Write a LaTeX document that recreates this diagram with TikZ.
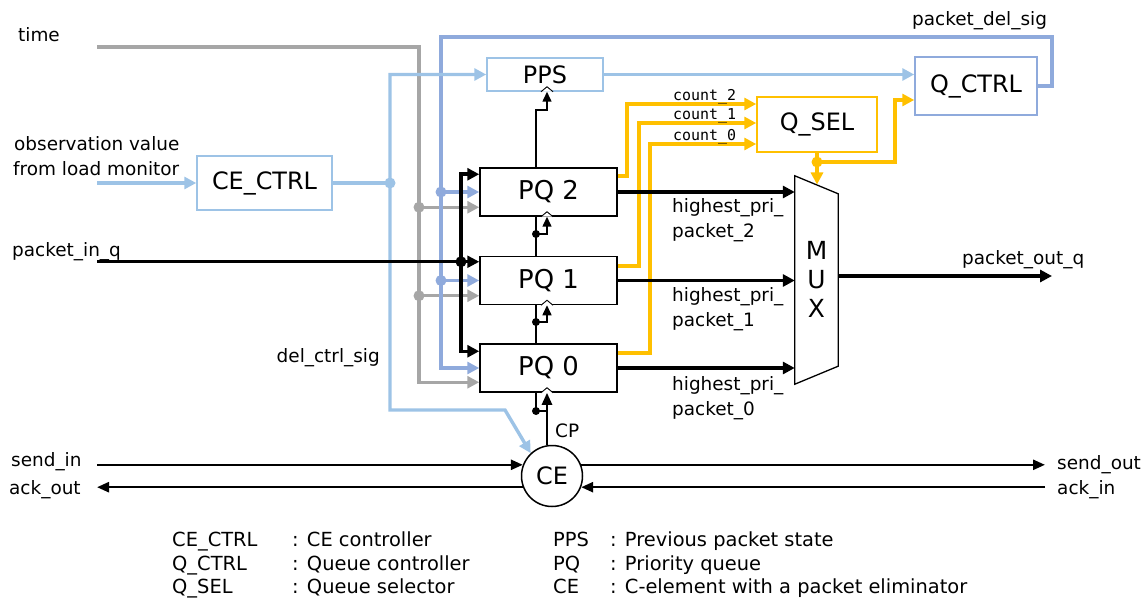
\documentclass[tikz,border=0pt]{standalone}
\usepackage{fontspec}
\setmainfont{DejaVu Sans}
\setmonofont{DejaVu Sans Mono}
\usetikzlibrary{arrows.meta,calc}
\definecolor{lblue}{HTML}{9DC3E6}
\definecolor{mblue}{HTML}{8FAADC}
\definecolor{gry}{HTML}{A6A6A6}
\definecolor{org}{HTML}{FFC000}
\tikzset{
  lbl/.style={inner sep=0pt, font=\fontsize{18.5}{22}\selectfont, anchor=base west},
  leg/.style={inner sep=0pt, font=\fontsize{19.5}{23}\selectfont, anchor=base west},
  cnt/.style={inner sep=0pt, font=\ttfamily\fontsize{15}{17}\selectfont, anchor=base west},
  blk/.style={draw, line width=1.5bp, inner sep=0pt, font=\fontsize{24}{28}\selectfont},
  pq/.style={draw, line width=1.5bp, inner sep=0pt, minimum width=137bp, minimum height=48bp, font=\fontsize{26}{30}\selectfont},
  wl/.style={line width=3.4bp},
  wo/.style={line width=3.6bp, org},
  wk/.style={line width=3.5bp, black},
  wm/.style={line width=2.5bp, black},
  wt/.style={line width=1.5bp, black},
  tipL/.style={-{Triangle[length=12bp,width=12bp]}},
  tipM/.style={-{Triangle[length=12bp,width=10bp]}},
  tipS/.style={-{Triangle[length=10bp,width=9bp]}},
  dotL/.style={circle, inner sep=0pt, minimum size=11bp},
  dotS/.style={circle, fill=black, inner sep=0pt, minimum size=8bp},
}
\begin{document}
\begin{tikzpicture}[x=1bp,y=-1bp]
\useasboundingbox (0,0) rectangle (1147,601);

% ---------- blocks
\node[blk, draw=lblue, minimum width=116bp, minimum height=33bp] (PPS) at (545,74.5) {PPS};
\node[blk, draw=mblue, minimum width=122bp, minimum height=58bp] (QCTRL) at (976,86) {Q\_CTRL};
\node[blk, draw=org, minimum width=120bp, minimum height=55bp] (QSEL) at (817,124.5) {Q\_SEL};
\node[blk, draw=lblue, minimum width=135bp, minimum height=54bp] (CECTRL) at (264.5,183) {CE\_CTRL};
\node[pq] (PQ2) at (548.5,192) {PQ 2};
\node[pq] (PQ1) at (548.5,280.5) {PQ 1};
\node[pq] (PQ0) at (548.5,368) {PQ 0};
\node[inner sep=0pt, minimum width=43bp, minimum height=208bp] (MUX) at (816.5,280) {};
\draw[line width=1.3bp] (MUX.north west) -- ($(MUX.north east)+(0,18)$) -- ($(MUX.south east)+(0,-18)$) -- (MUX.south west) -- cycle;
\node[font=\fontsize{25}{28}\selectfont, inner sep=0pt] (mM) at (816.5,250) {M};
\node[font=\fontsize{25}{28}\selectfont, inner sep=0pt] (mU) at (816.5,280) {U};
\node[font=\fontsize{25}{28}\selectfont, inner sep=0pt] (mX) at (816.5,308) {X};
\node[blk, circle, minimum size=61bp] (CE) at (552,476) {CE};

% ---------- columns
\coordinate (xg) at (419,0);
\coordinate (xb) at (441,0);
\coordinate (xl) at (390,0);
\coordinate (xk) at (461,0);
\coordinate (xa) at (547,0);
\coordinate (xc) at (536,0);
\coordinate (lx) at (97,0);
\coordinate (rx) at (1045,0);

% ---------- gray: time
\coordinate (g2) at ($(PQ2.north west)+(0,40)$);
\coordinate (g1) at ($(PQ1.north west)+(0,40)$);
\coordinate (g0) at ($(PQ0.north west)+(0,39)$);
\coordinate (tm) at (97,47);
\draw[wl, gry, tipL] (tm) -- (tm -| xg) -- (g0 -| xg) -- (g0);
\draw[wl, gry, tipL] (g2 -| xg) -- (g2);
\draw[wl, gry, tipL] (g1 -| xg) -- (g1);
\node[dotL, fill=gry] (dg2) at (g2 -| xg) {};
\node[dotL, fill=gry] (dg1) at (g1 -| xg) {};

% ---------- medium blue: packet_del_sig
\coordinate (pdA) at (1052,37);
\coordinate (pdB) at (441,37);
\draw[wl, mblue, tipL] (QCTRL.east) -| (pdA) -- (pdB) |- (PQ0.west);
\draw[wl, mblue, tipL] (PQ2.west -| xb) -- (PQ2.west);
\draw[wl, mblue, tipL] (PQ1.west -| xb) -- (PQ1.west);
\node[dotL, fill=mblue] (db2) at (PQ2.west -| xb) {};
\node[dotL, fill=mblue] (db1) at (PQ1.west -| xb) {};

% ---------- light blue
\coordinate (lb) at (390,410);
\coordinate (lc) at (505,410);
\draw[wl, lblue, {Triangle[length=12bp,width=12bp]}-{Triangle[length=12bp,width=12bp]}] (PPS.west) -- (PPS.west -| xl) -- (lb) -- (lc) -- (CE.133);
\draw[wl, lblue] (CECTRL.east) -- (CECTRL.east -| xl);
\node[dotL, fill=lblue] (dl) at (CECTRL.east -| xl) {};
\coordinate (obs) at (97,183);
\draw[wl, lblue, tipL] (obs) -- (CECTRL.west);
\draw[wl, lblue, tipL] (PPS.east) -- (PPS.east -| QCTRL.west);

% ---------- orange
\coordinate (o2) at ($(PQ2.north east)+(0,9)$);
\coordinate (o1) at ($(PQ1.north east)+(0,10)$);
\coordinate (o0) at ($(PQ0.north east)+(0,10)$);
\coordinate (v2) at (627,104);
\coordinate (v1) at (639,123);
\coordinate (v0) at (650,144);
\draw[wo, tipL] (o2) -| (v2) -- (v2 -| QSEL.west);
\draw[wo, tipL] (o1) -| (v1) -- (v1 -| QSEL.west);
\draw[wo, tipL] (o0) -| (v0) -- (v0 -| QSEL.west);
\coordinate (qd) at (817,162);
\coordinate (mt) at (817,184.5);
\coordinate (qv) at (895,100);
\draw[wo, tipL] (QSEL.south) -- (mt);
\draw[wo, tipL] (qd) -| (qv) -- (qv -| QCTRL.west);
\node[dotL, fill=org] (dq) at (qd) {};

% ---------- black data paths
\draw[wk, tipL] (PQ2.east) -- (PQ2.east -| MUX.west);
\draw[wk, tipL] (PQ1.east) -- (PQ1.east -| MUX.west);
\draw[wk, tipL] (PQ0.east) -- (PQ0.east -| MUX.west);
\coordinate (pout) at (1052,276);
\draw[wk, tipL] (pout -| MUX.east) -- (pout);
\coordinate (b2) at ($(PQ2.north west)+(0,7)$);
\coordinate (b1) at ($(PQ1.north west)+(0,6)$);
\coordinate (b0) at ($(PQ0.north west)+(0,8)$);
\draw[wm, tipL] (b1 -| lx) -- (b1);
\draw[wk, {Triangle[length=12bp,width=12bp]}-{Triangle[length=12bp,width=12bp]}] (b2) -- (b2 -| xk) -- (b0 -| xk) -- (b0);
\node[dotL, fill=black] (dk) at (b1 -| xk) {};

% ---------- chain between queues
\coordinate (k3) at (536,110);
\coordinate (k2) at (536,234);
\coordinate (k1) at (536,322);
\coordinate (k0) at (536,411);
\draw[wt, tipS] (PQ2.north -| xc) -- (k3) -| (PPS.south -| xa);
\draw[wt] (PQ1.north -| xc) -- (PQ2.south -| xc);
\draw[wt, tipS] (k2) -| (PQ2.south -| xa);
\draw[wt] (PQ0.north -| xc) -- (PQ1.south -| xc);
\draw[wt, tipS] (k1) -| (PQ1.south -| xa);
\draw[wt] (PQ0.south -| xc) -- (k0) -- (k0 -| xa);
\node[dotS] (dk2) at (k2) {};
\node[dotS] (dk1) at (k1) {};
\node[dotS] (dk0) at (k0) {};
\draw[wm, tipM] (CE.north -| xa) -- (PQ0.south -| xa);
\foreach \n in {PPS,PQ2,PQ1,PQ0}
  \draw[line width=0.9bp, fill=white] ($(\n.south -| xa)+(-6,0)$) -- ++(6,-5) -- ++(6,5);

% ---------- handshake
\draw[wm, tipM] (CE.159 -| lx) -- (CE.159);
\draw[wm, tipM] (CE.21) -- (CE.21 -| rx);
\draw[wm, tipM] (CE.-21 -| rx) -- (CE.-21);
\draw[wm, tipM] (CE.201) -- (CE.201 -| lx);

% ---------- labels
\node[lbl] (tTime) at (18,42) {time};
\node[lbl] (tObs1) at (14,151) {observation value};
\node[lbl] (tObs2) at (13,176) {from load monitor};
\node[lbl] (tPin) at (12,257) {packet\_in\_q};
\node[lbl, anchor=base east] (tDel) at (380,362) {del\_ctrl\_sig};
\node[lbl] (tSi) at (11,466) {send\_in};
\node[lbl] (tAo) at (9,494) {ack\_out};
\node[lbl] (tSo) at (1057,469) {send\_out};
\node[lbl] (tAi) at (1057,494) {ack\_in};
\node[lbl] (tPo) at (962,265) {packet\_out\_q};
\node[lbl] (tPd) at (912,26) {packet\_del\_sig};
\node[lbl] (tH2a) at (672,213) {highest\_pri\_};
\node[lbl] (tH2b) at (672,238) {packet\_2};
\node[lbl] (tH1a) at (672,302) {highest\_pri\_};
\node[lbl] (tH1b) at (672,327) {packet\_1};
\node[lbl] (tH0a) at (672,390) {highest\_pri\_};
\node[lbl] (tH0b) at (672,415) {packet\_0};
\node[cnt] (c2) at (673,101) {count\_2};
\node[cnt] (c1) at (673,120) {count\_1};
\node[cnt] (c0) at (673,141) {count\_0};
\node[lbl] (tCP) at (555,437) {CP};

% ---------- legend
\node[leg] (l1a) at (172,546) {CE\_CTRL};
\node[leg] (l1b) at (292,546) {: CE controller};
\node[leg] (l2a) at (172,570) {Q\_CTRL};
\node[leg] (l2b) at (292,570) {: Queue controller};
\node[leg] (l3a) at (172,593) {Q\_SEL};
\node[leg] (l3b) at (292,593) {: Queue selector};
\node[leg] (l4a) at (553,546) {PPS};
\node[leg] (l4b) at (610,546) {: Previous packet state};
\node[leg] (l5a) at (553,570) {PQ};
\node[leg] (l5b) at (610,570) {: Priority queue};
\node[leg] (l6a) at (553,593) {CE};
\node[leg] (l6b) at (610,593) {: C-element with a packet eliminator};
\end{tikzpicture}
\end{document}
